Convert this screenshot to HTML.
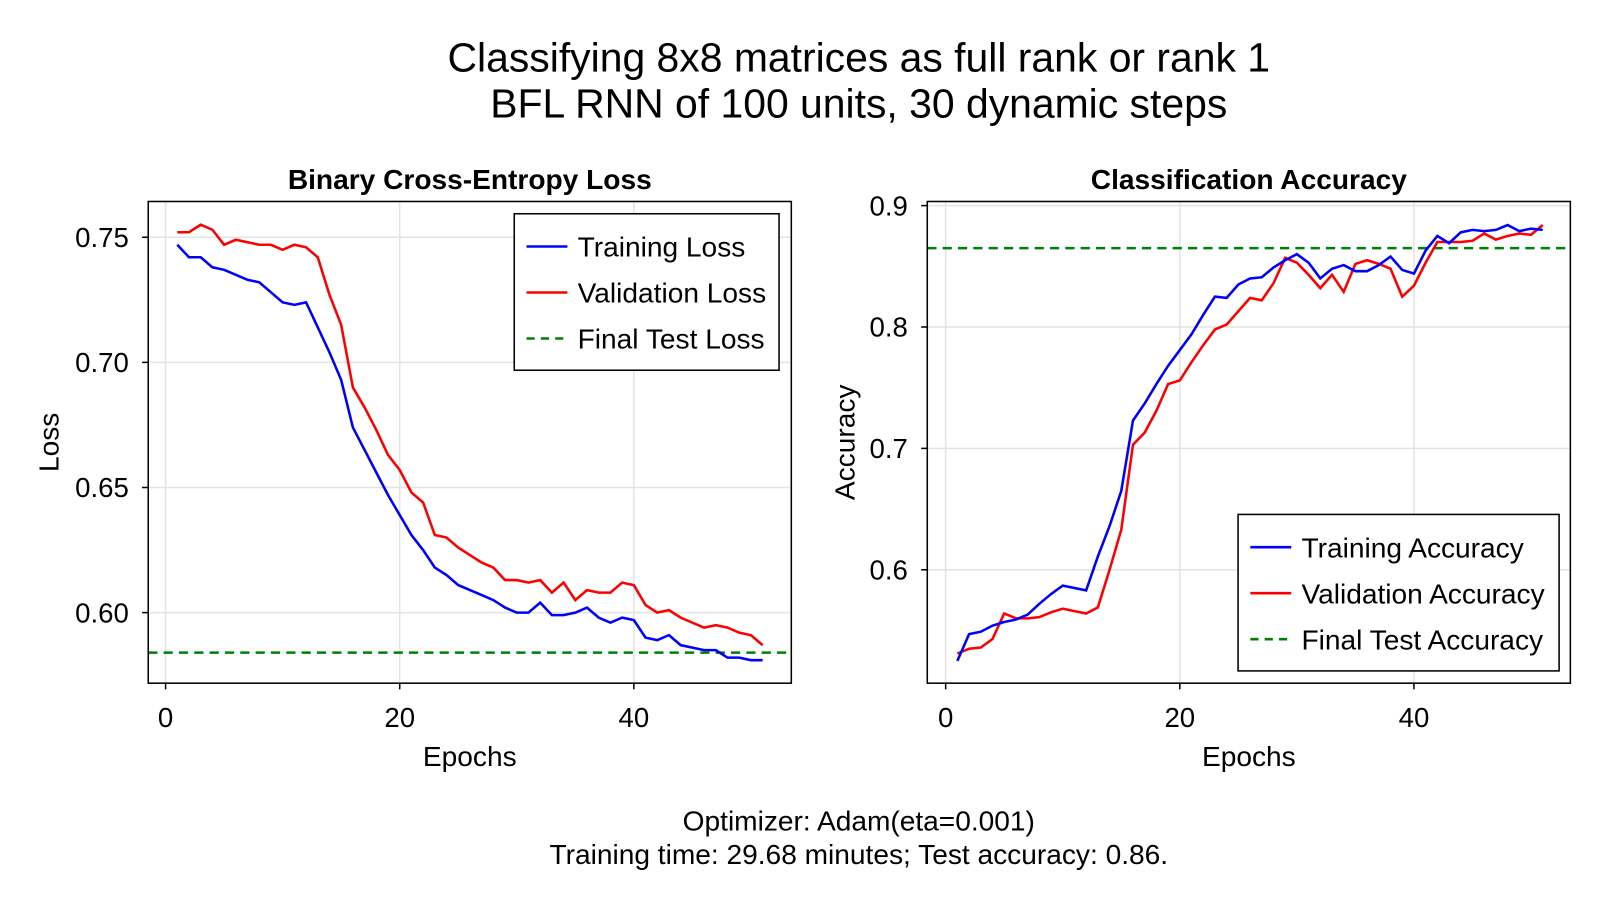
<!DOCTYPE html>
<html><head><meta charset="utf-8"><style>
body{margin:0;background:#fff;}
svg{display:block;font-family:"Liberation Sans",sans-serif;}
</style></head><body>
<svg id="chart" width="1600" height="900" viewBox="0 0 1565 880" preserveAspectRatio="none">
<text x="840" y="70" text-anchor="middle" font-size="40">Classifying 8x8 matrices as full rank or rank 1</text>
<text x="840" y="115" text-anchor="middle" font-size="40">BFL RNN of 100 units, 30 dynamic steps</text>
<text x="840" y="812" text-anchor="middle" font-size="27.5">Optimizer: Adam(eta=0.001)</text>
<text x="840" y="845" text-anchor="middle" font-size="27.5">Training time: 29.68 minutes; Test accuracy: 0.86.</text>
</svg>
<script>
const epochs = Array.from({length:51},(_,i)=>i+1);
const trainLoss=[0.747,0.742,0.742,0.738,0.737,0.735,0.733,0.732,0.728,0.724,0.723,0.724,0.714,0.704,0.693,0.674,0.665,0.656,0.647,0.639,0.631,0.625,0.618,0.615,0.611,0.609,0.607,0.605,0.602,0.600,0.600,0.604,0.599,0.599,0.600,0.602,0.598,0.596,0.598,0.597,0.590,0.589,0.591,0.587,0.586,0.585,0.585,0.582,0.582,0.581,0.581];
const valLoss=[0.752,0.752,0.755,0.753,0.747,0.749,0.748,0.747,0.747,0.745,0.747,0.746,0.742,0.727,0.715,0.690,0.682,0.673,0.663,0.657,0.648,0.644,0.631,0.630,0.626,0.623,0.620,0.618,0.613,0.613,0.612,0.613,0.608,0.612,0.605,0.609,0.608,0.608,0.612,0.611,0.603,0.600,0.601,0.598,0.596,0.594,0.595,0.594,0.592,0.591,0.587];
const testLoss=0.584;
const trainAcc=[0.525,0.547,0.549,0.554,0.557,0.559,0.563,0.572,0.580,0.587,0.585,0.583,0.611,0.636,0.665,0.723,0.737,0.753,0.768,0.781,0.794,0.810,0.825,0.824,0.835,0.840,0.841,0.849,0.855,0.860,0.853,0.840,0.848,0.851,0.846,0.846,0.851,0.858,0.847,0.844,0.863,0.875,0.869,0.878,0.880,0.879,0.880,0.884,0.879,0.881,0.880];
const valAcc=[0.531,0.535,0.536,0.543,0.564,0.560,0.560,0.561,0.565,0.568,0.566,0.564,0.569,0.600,0.633,0.703,0.713,0.731,0.753,0.756,0.771,0.785,0.798,0.802,0.813,0.824,0.822,0.836,0.857,0.853,0.843,0.832,0.843,0.829,0.852,0.855,0.852,0.848,0.825,0.834,0.853,0.870,0.870,0.870,0.871,0.877,0.872,0.875,0.877,0.876,0.884];
const testAcc=0.865;
const xTicks=[0,20,40];
const lossTicks=[0.60,0.65,0.70,0.75];
const accTicks=[0.6,0.7,0.8,0.9];

const NS="http://www.w3.org/2000/svg";
const svg=document.getElementById('chart');
function mk(tag,attrs,parent){const e=document.createElementNS(NS,tag);for(const k in attrs)e.setAttribute(k,attrs[k]);(parent||svg).appendChild(e);return e;}

function panel(o){
  const g=mk('g',{});
  
  
  const X=v=>o.x0+(v-o.xmin)/(o.xmax-o.xmin)*(o.x1-o.x0);
  const Y=v=>o.y1-(v-o.ymin)/(o.ymax-o.ymin)*(o.y1-o.y0);
  xTicks.forEach(t=>{
    const l=mk('line',{x1:X(t),x2:X(t),y1:o.y0,y2:o.y1,stroke:'#e3e3e3','stroke-width':1.5},g);
    
    mk('line',{x1:X(t),x2:X(t),y1:o.y1,y2:o.y1+6,stroke:'#000','stroke-width':1.5},g);
    const tx=mk('text',{x:X(t),y:o.y1+43,'text-anchor':'middle','font-size':27},g);tx.textContent=t;
    
  });
  o.yTicks.forEach(t=>{
    const l=mk('line',{x1:o.x0,x2:o.x1,y1:Y(t),y2:Y(t),stroke:'#e3e3e3','stroke-width':1.5},g);
    
    mk('line',{x1:o.x0-6,x2:o.x0,y1:Y(t),y2:Y(t),stroke:'#000','stroke-width':1.5},g);
    const tx=mk('text',{x:o.x0-19,y:Y(t)+9.5,'text-anchor':'end','font-size':27},g);tx.textContent=t.toFixed(o.dec);
    
  });
  const h=mk('line',{x1:o.x0,x2:o.x1,y1:Y(o.test),y2:Y(o.test),stroke:'#008000','stroke-width':2.5,'stroke-dasharray':'9,6'},g);
  
  [[o.val,'#ff0000','validation-line'],[o.train,'#0000ff','training-line']].forEach(([arr,c,n])=>{
    const p=mk('polyline',{points:arr.map((v,i)=>X(epochs[i])+','+Y(v)).join(' '),fill:'none',stroke:c,'stroke-width':2.5},g);
    
  });
  const fr=mk('rect',{x:o.x0,y:o.y0,width:o.x1-o.x0,height:o.y1-o.y0,fill:'none',stroke:'#000','stroke-width':1.5},g);
  
  const tt=mk('text',{x:(o.x0+o.x1)/2,y:185,'text-anchor':'middle','font-size':27.5,'font-weight':'bold'},g);tt.textContent=o.title;
  
  const xl=mk('text',{x:(o.x0+o.x1)/2,y:749,'text-anchor':'middle','font-size':27.5},g);xl.textContent='Epochs';
  
  const yc=(o.y0+o.y1)/2;
  const yl=mk('text',{x:o.ylx,y:yc,'text-anchor':'middle','font-size':27.5,transform:`rotate(-90 ${o.ylx} ${yc})`},g);yl.textContent=o.ylabel;
  
  const L=o.leg;
  const lg=mk('g',{},g);
  
  mk('rect',{x:L.x,y:L.y,width:L.w,height:153,fill:'#fff',stroke:'#000','stroke-width':1.5},lg);
  o.labels.forEach((lab,i)=>{
    const cy=L.y+32+i*45;
    const attrs={x1:L.x+12,x2:L.x+52,y1:cy,y2:cy,stroke:['#0000ff','#ff0000','#008000'][i],'stroke-width':2.5};
    if(i==2)attrs['stroke-dasharray']='8,6';
    mk('line',attrs,lg);
    const t=mk('text',{x:L.x+62,y:cy+10,'font-size':27.5},lg);t.textContent=lab;
    
  });
}
panel({name:'loss-panel',x0:145,x1:774,y0:197,y1:668,xmin:-1.48,xmax:53.45,ymin:0.5718,ymax:0.7643,yTicks:lossTicks,dec:2,
  train:trainLoss,val:valLoss,test:testLoss,title:'Binary Cross-Entropy Loss',ylabel:'Loss',ylx:57,
  leg:{x:503,y:209,w:259},labels:['Training Loss','Validation Loss','Final Test Loss']});
panel({name:'accuracy-panel',x0:907,x1:1536,y0:197,y1:668,xmin:-1.57,xmax:53.36,ymin:0.5066,ymax:0.9034,yTicks:accTicks,dec:1,
  train:trainAcc,val:valAcc,test:testAcc,title:'Classification Accuracy',ylabel:'Accuracy',ylx:836,
  leg:{x:1211,y:503,w:314},labels:['Training Accuracy','Validation Accuracy','Final Test Accuracy']});
</script>
</body></html>
